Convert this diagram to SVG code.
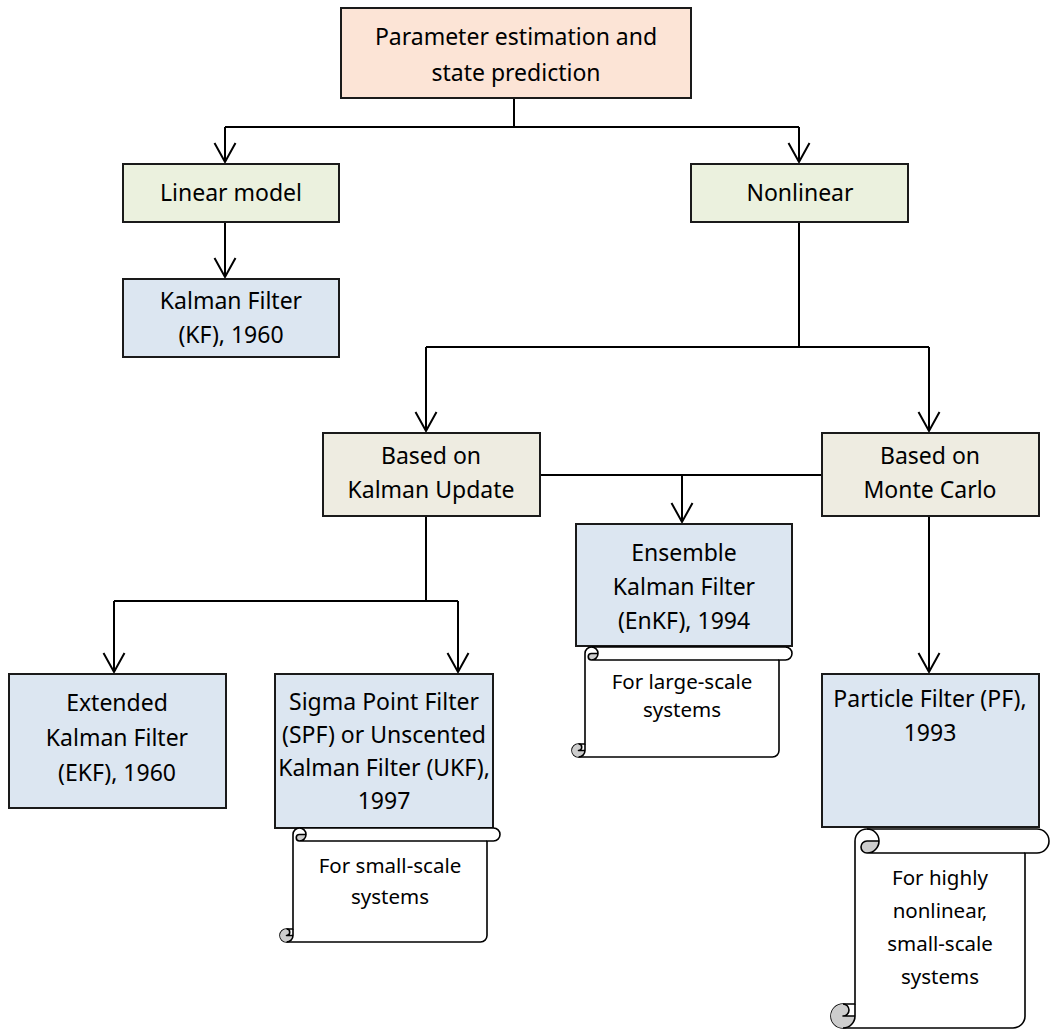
<svg xmlns="http://www.w3.org/2000/svg" width="1050" height="1029" viewBox="0 0 1050 1029">
  <defs>
    <style>
      .box { stroke: #1a1a1a; stroke-width: 2; }
      .root { fill: #FCE4D6; }
      .model { fill: #EBF1DE; }
      .family { fill: #EEECE1; }
      .filter { fill: #DCE6F1; }
      .t { font-family: "Noto Sans", "Open Sans", sans-serif; font-size: 23px; fill: #000; text-anchor: middle; }
      .note { font-family: "Noto Sans", "Open Sans", sans-serif; font-size: 20.5px; fill: #000; text-anchor: middle; }
      .wire { fill: none; stroke: #000; stroke-width: 2; }
      .scroll { fill: #fff; stroke: #000; stroke-width: 1.6; stroke-linejoin: round; }
      .curl { fill: #CDCDCD; stroke: none; }
      .scroll-line { fill: none; stroke: #000; stroke-width: 1.6; stroke-linejoin: round; }
    </style>
    <marker id="arrow" markerUnits="userSpaceOnUse" orient="auto" refX="0" refY="0" overflow="visible">
      <path d="M-19,-10.5 L0,0 L-19,10.5" fill="none" stroke="#000" stroke-width="2"/>
    </marker>
  </defs>

  <rect width="1050" height="1029" fill="#fff"/>

  <!-- connectors -->
  <g id="connectors" class="wire">
    <path d="M514,98 V127 M225,127 H799"/>
    <path d="M225,127 V162" marker-end="url(#arrow)"/>
    <path d="M799,127 V162" marker-end="url(#arrow)"/>
    <path d="M225,222 V277" marker-end="url(#arrow)"/>
    <path d="M799,222 V347 M426,347 H929"/>
    <path d="M426,347 V431" marker-end="url(#arrow)"/>
    <path d="M929,347 V431" marker-end="url(#arrow)"/>
    <path d="M540,475 H822"/>
    <path d="M682,475 V522" marker-end="url(#arrow)"/>
    <path d="M426,516 V601 M114,601 H458"/>
    <path d="M114,601 V672" marker-end="url(#arrow)"/>
    <path d="M458,601 V672" marker-end="url(#arrow)"/>
    <path d="M929,516 V672" marker-end="url(#arrow)"/>
  </g>

  <!-- nodes -->
  <g id="root">
    <rect class="box root" x="341" y="8" width="350" height="90"/>
    <text class="t" x="516" y="45">Parameter estimation and</text>
    <text class="t" x="516" y="81">state prediction</text>
  </g>

  <g id="linear-model">
    <rect class="box model" x="123" y="164" width="216" height="58"/>
    <text class="t" x="231" y="201">Linear model</text>
  </g>

  <g id="nonlinear">
    <rect class="box model" x="691" y="164" width="217" height="58"/>
    <text class="t" x="800" y="201">Nonlinear</text>
  </g>

  <g id="kf">
    <rect class="box filter" x="123" y="279" width="216" height="78"/>
    <text class="t" x="231" y="309">Kalman Filter</text>
    <text class="t" x="231" y="343">(KF), 1960</text>
  </g>

  <g id="kalman-update">
    <rect class="box family" x="323" y="433" width="217" height="83"/>
    <text class="t" x="431" y="464">Based on</text>
    <text class="t" x="431" y="498">Kalman Update</text>
  </g>

  <g id="monte-carlo">
    <rect class="box family" x="822" y="433" width="217" height="83"/>
    <text class="t" x="930" y="464">Based on</text>
    <text class="t" x="930" y="498">Monte Carlo</text>
  </g>

  <g id="enkf">
    <rect class="box filter" x="576" y="524" width="216" height="122"/>
    <text class="t" x="684" y="561">Ensemble</text>
    <text class="t" x="684" y="595">Kalman Filter</text>
    <text class="t" x="684" y="629">(EnKF), 1994</text>
  </g>

  <g id="enkf-note" transform="translate(572,647)">
    <path class="scroll" d="M13,97 L13,6.5 A6.5,6.5 0 0 1 19.5,0 L213.5,0 A6.5,6.5 0 0 1 213.5,13 L207,13 L207,103.5 A6.5,6.5 0 0 1 200.5,110 L6.5,110 A6.5,6.5 0 0 1 6.5,97 Z"/>
    <path class="curl" d="M26,6.5 A6.5,6.5 0 0 1 19.5,13 A3.25,3.25 0 0 1 19.5,6.5 Z M13,103.5 A6.5,6.5 0 1 1 6.5,97 A3.25,3.25 0 0 1 6.5,103.5 Z"/>
    <path class="scroll-line" d="M19.5,0 A6.5,6.5 0 0 1 19.5,13 A3.25,3.25 0 0 1 19.5,6.5 L26,6.5 M207,13 L19.5,13 M6.5,97 A3.25,3.25 0 0 1 6.5,103.5 L13,103.5 M6.5,110 A6.5,6.5 0 0 0 13,103.5 L13,97"/>
    <text class="note" x="110" y="42">For large-scale</text>
    <text class="note" x="110" y="70">systems</text>
  </g>

  <g id="ekf">
    <rect class="box filter" x="9" y="674" width="217" height="134"/>
    <text class="t" x="117" y="711">Extended</text>
    <text class="t" x="117" y="746">Kalman Filter</text>
    <text class="t" x="117" y="781">(EKF), 1960</text>
  </g>

  <g id="ukf">
    <rect class="box filter" x="275" y="674" width="218" height="154"/>
    <text class="t" x="384" y="710">Sigma Point Filter</text>
    <text class="t" x="384" y="743">(SPF) or Unscented</text>
    <text class="t" x="384" y="776">Kalman Filter (UKF),</text>
    <text class="t" x="384" y="809">1997</text>
  </g>

  <g id="ukf-note" transform="translate(280,828)">
    <path class="scroll" d="M13,101 L13,6.5 A6.5,6.5 0 0 1 19.5,0 L213.5,0 A6.5,6.5 0 0 1 213.5,13 L207,13 L207,107.5 A6.5,6.5 0 0 1 200.5,114 L6.5,114 A6.5,6.5 0 0 1 6.5,101 Z"/>
    <path class="curl" d="M26,6.5 A6.5,6.5 0 0 1 19.5,13 A3.25,3.25 0 0 1 19.5,6.5 Z M13,107.5 A6.5,6.5 0 1 1 6.5,101 A3.25,3.25 0 0 1 6.5,107.5 Z"/>
    <path class="scroll-line" d="M19.5,0 A6.5,6.5 0 0 1 19.5,13 A3.25,3.25 0 0 1 19.5,6.5 L26,6.5 M207,13 L19.5,13 M6.5,101 A3.25,3.25 0 0 1 6.5,107.5 L13,107.5 M6.5,114 A6.5,6.5 0 0 0 13,107.5 L13,101"/>
    <text class="note" x="110" y="45">For small-scale</text>
    <text class="note" x="110" y="76">systems</text>
  </g>

  <g id="pf">
    <rect class="box filter" x="822" y="674" width="217" height="153"/>
    <text class="t" x="930" y="707">Particle Filter (PF),</text>
    <text class="t" x="930" y="741">1993</text>
  </g>

  <g id="pf-note" transform="translate(831,829)">
    <path class="scroll" d="M24,175 L24,12 A12,12 0 0 1 36,0 L206,0 A12,12 0 0 1 206,24 L194,24 L194,187 A12,12 0 0 1 182,199 L12,199 A12,12 0 0 1 12,175 Z"/>
    <path class="curl" d="M48,12 A12,12 0 0 1 36,24 A6,6 0 0 1 36,12 Z M24,187 A12,12 0 1 1 12,175 A6,6 0 0 1 12,187 Z"/>
    <path class="scroll-line" d="M36,0 A12,12 0 0 1 36,24 A6,6 0 0 1 36,12 L48,12 M194,24 L36,24 M12,175 A6,6 0 0 1 12,187 L24,187 M12,199 A12,12 0 0 0 24,187 L24,175"/>
    <text class="note" x="109" y="56">For highly</text>
    <text class="note" x="109" y="89">nonlinear,</text>
    <text class="note" x="109" y="122">small-scale</text>
    <text class="note" x="109" y="155">systems</text>
  </g>
</svg>
